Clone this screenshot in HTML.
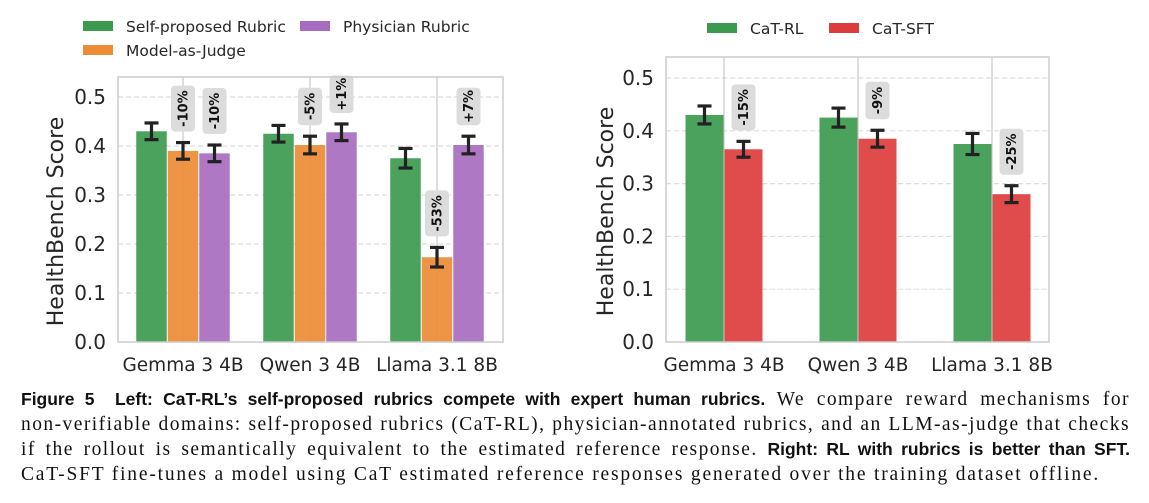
<!DOCTYPE html>
<html><head><meta charset="utf-8">
<style>
body{margin:0;background:#fff;width:1149px;height:503px;overflow:hidden;font-family:"DejaVu Sans","Liberation Sans",sans-serif}
#cap{position:absolute;left:21px;top:387px;width:1109px;font-family:"Liberation Serif",serif;font-size:19.5px;color:#111;letter-spacing:1.45px}
#cap div{height:25px;line-height:25px;text-align:justify;text-align-last:justify;white-space:nowrap}
#cap div.last{text-align-last:left;letter-spacing:1.8px}
#cap b{font-family:"Liberation Sans",sans-serif;font-weight:bold;font-size:17.5px;letter-spacing:0}
</style></head><body>
<svg id="chart" width="1149" height="385" style="position:absolute;left:0;top:0" font-family="DejaVu Sans, Liberation Sans, sans-serif"></svg>
<div id="cap">
<div><b>Figure 5&nbsp;&nbsp;Left: CaT-RL’s self-proposed rubrics compete with expert human rubrics.</b> We compare reward mechanisms for</div>
<div>non-verifiable domains: self-proposed rubrics (CaT-RL), physician-annotated rubrics, and an LLM-as-judge that checks</div>
<div>if the rollout is semantically equivalent to the estimated reference response. <b>Right: RL with rubrics is better than SFT.</b></div>
<div class="last">CaT-SFT fine-tunes a model using CaT estimated reference responses generated over the training dataset offline.</div>
</div>
<script>
const categories=["Gemma 3 4B","Qwen 3 4B","Llama 3.1 8B"];
const leftSeriesNames=["Self-proposed Rubric","Model-as-Judge","Physician Rubric"];
const leftSelf=[0.430,0.425,0.375];
const leftJudge=[0.390,0.402,0.173];
const leftPhys=[0.385,0.428,0.402];
const leftErr=[[0.017,0.017,0.020],[0.017,0.018,0.020],[0.017,0.017,0.018]];
const leftLabels=[[null,null,null],["-10%","-5%","-53%"],["-10%","+1%","+7%"]];
const rightSeriesNames=["CaT-RL","CaT-SFT"];
const rightRL=[0.430,0.425,0.375];
const rightSFT=[0.365,0.385,0.280];
const rightErr=[[0.017,0.018,0.020],[0.015,0.016,0.016]];
const rightLabels=[[null,null,null],["-15%","-9%","-25%"]];
const yTicks=["0.0","0.1","0.2","0.3","0.4","0.5"];

const svg=document.getElementById('chart');
const NS="http://www.w3.org/2000/svg";
function mk(tag,at,parent){const e=document.createElementNS(NS,tag);for(const k in at)e.setAttribute(k,at[k]);(parent||svg).appendChild(e);return e;}

function drawChart(cfg){
  const g=mk('g',{});
  
  
  const {x0,x1,yTop,yBase,yPer}=cfg;
  const y=v=>yBase-v*yPer*10;
  const nS=cfg.series.length;
  const xc=i=>cfg.c0+i*cfg.step;
  yTicks.forEach(t=>{const v=parseFloat(t);
    if(v>0){const l=mk('line',{x1:x0,x2:x1,y1:y(v),y2:y(v),stroke:'#dcdcdc','stroke-width':1.2,'stroke-dasharray':'5,3'},g);
      }
    const tx=mk('text',{x:x0-12,y:y(v)+7,'text-anchor':'end','font-size':20,fill:'#262626'},g);
    tx.textContent=t;
    
  });
  categories.forEach((c,i)=>{const l=mk('line',{x1:xc(i)+cfg.refOff,x2:xc(i)+cfg.refOff,y1:yTop,y2:yBase,stroke:'#c8c8c8','stroke-width':1.2},g);
    });
  cfg.series.forEach((vals,s)=>{
    vals.forEach((v,i)=>{
      const bx=xc(i)+(s-nS/2)*cfg.bw;
      const r=mk('rect',{x:bx+0.5,y:y(v),width:cfg.bw-1,height:yBase-y(v),fill:cfg.colors[s],'fill-opacity':0.92},g);
      
      const e=cfg.err[s][i],cx=bx+cfg.bw/2;
      const eg=mk('g',{stroke:'#222','stroke-width':3.2},g);
      
      mk('line',{x1:cx,x2:cx,y1:y(v+e),y2:y(v-e)},eg);
      mk('line',{x1:cx-7,x2:cx+7,y1:y(v+e),y2:y(v+e)},eg);
      mk('line',{x1:cx-7,x2:cx+7,y1:y(v-e),y2:y(v-e)},eg);
      const lab=cfg.labels[s][i];
      if(lab){
        const bot=y(v+e)-11, len=lab.length*8.5+12;
        const lg=mk('g',{},g);
        
        mk('rect',{x:cx-12,y:bot-len,width:24,height:len,rx:4,fill:'#dcdcdc'},lg);
        const t=mk('text',{x:0,y:0,'font-size':13,'font-weight':'bold','text-anchor':'middle',fill:'#111',transform:`translate(${cx+4.5},${bot-len/2}) rotate(-90)`},lg);
        t.textContent=lab;
      }
    });
  });
  const f=mk('rect',{x:x0,y:yTop,width:x1-x0,height:yBase-yTop,fill:'none',stroke:'#cccccc','stroke-width':1.5},g);
  
  categories.forEach((c,i)=>{const t=mk('text',{x:xc(i),y:371,'text-anchor':'middle','font-size':18.5,fill:'#262626'},g);
    t.textContent=c;});
  const yt=mk('text',{x:0,y:0,'text-anchor':'middle','font-size':22,fill:'#262626',transform:`translate(${cfg.titleX},${(yTop+yBase)/2+12}) rotate(-90)`},g);
  yt.textContent='HealthBench Score';
  cfg.legend.forEach(L=>{const lg=mk('g',{},g);
    
    mk('rect',{x:L.x,y:L.y-5,width:30,height:10,fill:L.color},lg);
    const t=mk('text',{x:L.x+43,y:L.y+6,'font-size':15.5,fill:'#262626'},lg);t.textContent=L.text;});
}
drawChart({name:'left-chart',x0:118,x1:503,yTop:77,yBase:342,yPer:49,c0:183,step:127,bw:31.5,refOff:0,titleX:63,
  series:[leftSelf,leftJudge,leftPhys],err:leftErr,labels:leftLabels,keys:['self','judge','physician'],
  colors:['#3c9a4f','#ec8c35','#a76cc0'],
  legend:[{x:83,y:26,color:'#3c9a4f',text:leftSeriesNames[0]},{x:300,y:26,color:'#a76cc0',text:leftSeriesNames[2]},{x:83,y:50,color:'#ec8c35',text:leftSeriesNames[1]}]});
drawChart({name:'right-chart',x0:666,x1:1049,yTop:57,yBase:342,yPer:52.8,c0:724,step:134,bw:39,refOff:0,titleX:613,
  series:[rightRL,rightSFT],err:rightErr,labels:rightLabels,keys:['rl','sft'],
  colors:['#3c9a4f','#dd3c3c'],
  legend:[{x:707,y:28,color:'#3c9a4f',text:rightSeriesNames[0]},{x:829,y:28,color:'#dd3c3c',text:rightSeriesNames[1]}]});
</script>
</body></html>
